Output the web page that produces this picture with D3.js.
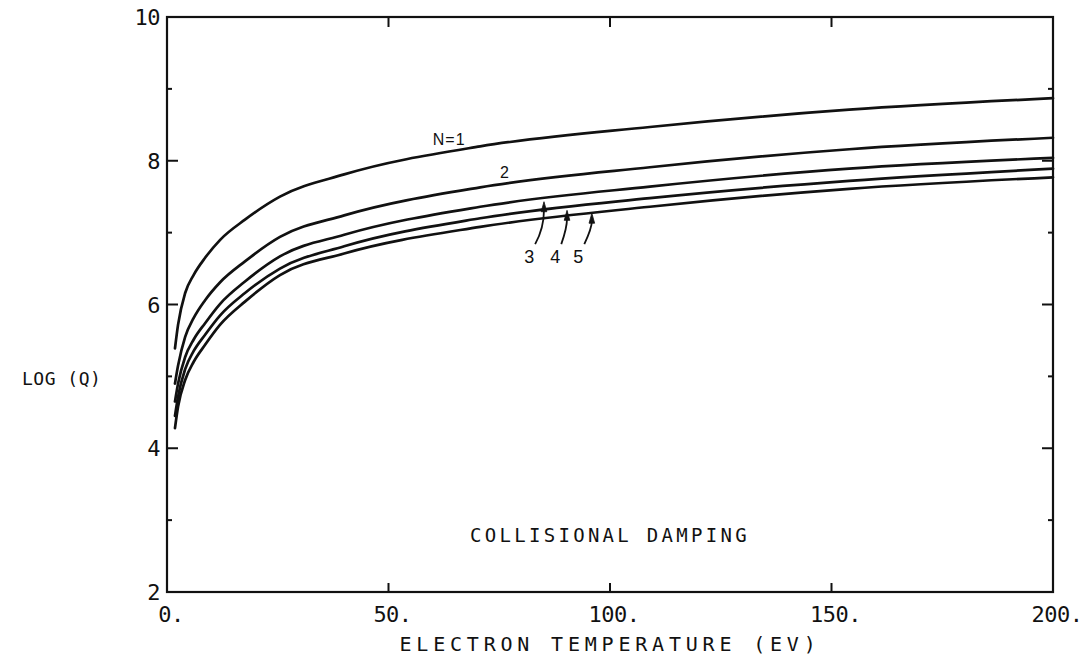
<!DOCTYPE html>
<html><head><meta charset="utf-8">
<script src="https://cdn.jsdelivr.net/npm/d3@7"></script>
<style>
html,body{margin:0;padding:0;background:#fff;}
svg{display:block;}
text{fill:#111;}
</style></head>
<body><svg id="c" width="1090" height="669"></svg>
<script>
// ---- data ----
const temps = [1.8, 2.5, 4.1, 6, 8.6, 12, 17.6, 25.5, 40, 70.7, 109, 154, 200];
const qN1 = [5.39, 5.72, 6.16, 6.41, 6.65, 6.90, 7.18, 7.50, 7.81, 8.20, 8.47, 8.71, 8.87];
const qN2 = [4.90, 5.15, 5.55, 5.81, 6.06, 6.31, 6.60, 6.94, 7.24, 7.63, 7.91, 8.16, 8.32];
const qN3 = [4.65, 4.90, 5.27, 5.51, 5.74, 6.01, 6.32, 6.67, 6.97, 7.36, 7.64, 7.89, 8.04];
const qN4 = [4.45, 4.72, 5.10, 5.35, 5.58, 5.85, 6.16, 6.50, 6.81, 7.20, 7.48, 7.72, 7.89];
const qN5 = [4.28, 4.58, 4.95, 5.20, 5.44, 5.72, 6.04, 6.41, 6.71, 7.08, 7.36, 7.61, 7.77];
const seriesNames = ["N=1", "2", "3", "4", "5"];
const xTicks = [0, 50, 100, 150, 200];
const xTickLabels = ["0.", "50.", "100.", "150.", "200."];
const yMajor = [2, 4, 6, 8, 10];
const yMinor = [3, 5, 7, 9];
// label positions (data units)
const inlineLabels = [{t: "N=1", x: 63.7, y: 8.22}, {t: "2", x: 76.3, y: 7.76}];
const arrowLabels = [
  {t: "3", lx: 83.1, ly: 6.84, tx: 85.1, ty: 7.43},
  {t: "4", lx: 89.0, ly: 6.84, tx: 90.3, ty: 7.31},
  {t: "5", lx: 94.2, ly: 6.84, tx: 95.9, ty: 7.27}
];

// ---- chart ----
const svg = d3.select("#c");
const x = d3.scaleLinear().domain([0, 200]).range([167, 1053]);
const y = d3.scaleLinear().domain([2, 10]).range([592, 17]);
const ink = "#111";
const MONO = '"DejaVu Sans Mono", monospace';
const SANS = '"Liberation Sans", Arial, sans-serif';

const allSeries = [qN1, qN2, qN3, qN4, qN5];
const line = d3.line().x(d => x(d[0])).y(d => y(d[1])).curve(d3.curveMonotoneX);
svg.append("g").selectAll("path").data(allSeries).join("path")
  .attr("d", s => line(temps.map((t, i) => [t, s[i]])))
  .attr("fill", "none").attr("stroke", ink).attr("stroke-width", 2.7)
  .attr("stroke-linejoin", "round").attr("stroke-linecap", "round");

// frame
svg.append("rect").attr("x", x(0)).attr("y", y(10))
  .attr("width", x(200) - x(0)).attr("height", y(2) - y(10))
  .attr("fill", "none").attr("stroke", ink).attr("stroke-width", 2.2);

// ticks
const tk = svg.append("g").attr("stroke", ink).attr("stroke-width", 2);
yMajor.slice(1, -1).forEach(v => {
  tk.append("line").attr("x1", x(0)).attr("x2", x(0) + 11).attr("y1", y(v)).attr("y2", y(v));
  tk.append("line").attr("x1", x(200)).attr("x2", x(200) - 11).attr("y1", y(v)).attr("y2", y(v));
});
yMinor.forEach(v => {
  tk.append("line").attr("x1", x(0)).attr("x2", x(0) + 5).attr("y1", y(v)).attr("y2", y(v));
  tk.append("line").attr("x1", x(200)).attr("x2", x(200) - 5).attr("y1", y(v)).attr("y2", y(v));
});
xTicks.slice(1, -1).forEach(v => {
  tk.append("line").attr("x1", x(v)).attr("x2", x(v)).attr("y1", y(2)).attr("y2", y(2) - 9);
  tk.append("line").attr("x1", x(v)).attr("x2", x(v)).attr("y1", y(10)).attr("y2", y(10) + 10);
});

// tick labels
svg.append("g").selectAll("text").data(xTicks).join("text")
  .attr("x", d => x(d) + 4).attr("y", 622)
  .attr("text-anchor", "middle").attr("font-size", 22).attr("letter-spacing", -0.5)
  .style("font-family", MONO)
  .text((d, i) => xTickLabels[i]);
svg.append("g").selectAll("text").data(yMajor).join("text")
  .attr("x", 160).attr("y", d => y(d) + 8)
  .attr("text-anchor", "end").attr("font-size", 22).attr("letter-spacing", -0.5)
  .style("font-family", MONO)
  .text(d => d);

// axis titles
svg.append("text").attr("x", 610).attr("y", 651).attr("text-anchor", "middle")
  .attr("font-size", 20).attr("letter-spacing", 4.8).style("font-family", MONO)
  .text("ELECTRON TEMPERATURE (EV)");
svg.append("text").attr("x", 22).attr("y", 385)
  .attr("font-size", 18).attr("letter-spacing", 0.5).style("font-family", MONO).text("LOG (Q)");
svg.append("text").attr("x", x(100) + 0).attr("y", 542).attr("text-anchor", "middle")
  .attr("font-size", 19).attr("letter-spacing", 3.3).style("font-family", MONO)
  .text("COLLISIONAL DAMPING");

// curve labels
svg.append("g").selectAll("text").data(inlineLabels).join("text")
  .attr("x", d => x(d.x)).attr("y", d => y(d.y))
  .attr("text-anchor", "middle").attr("font-size", 16).attr("letter-spacing", 1)
  .style("font-family", SANS).text(d => d.t);

const ag = svg.append("g");
arrowLabels.forEach(a => {
  const lx = x(a.lx), ly = y(a.ly), tx = x(a.tx), ty = y(a.ty);
  ag.append("text").attr("x", lx - 6).attr("y", ly + 19).attr("text-anchor", "middle")
    .attr("font-size", 18).style("font-family", SANS).text(a.t);
  const sx = lx, sy = ly;
  ag.append("path").attr("d", `M${sx},${sy} Q${tx},${sy - 16} ${tx},${ty + 8}`)
    .attr("fill", "none").attr("stroke", ink).attr("stroke-width", 1.8);
  ag.append("path").attr("d", `M${tx},${ty} L${tx - 2.8},${ty + 10} L${tx + 2.8},${ty + 10} Z`)
    .attr("fill", ink).attr("stroke", ink).attr("stroke-width", 0.8);
});
</script></body></html>
